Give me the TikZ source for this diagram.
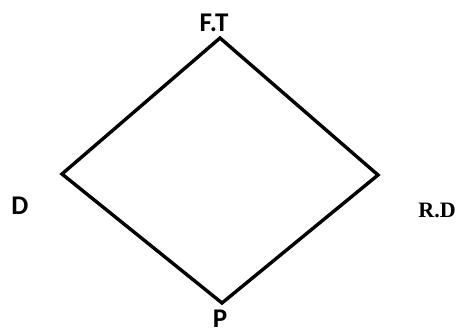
\documentclass[tikz,border=0pt]{standalone}
\usepackage{fontspec}
\setmainfont{Carlito}
\newfontfamily\serifbold{Liberation Serif}
\usepackage{tikz}
\tikzset{
  vlabel/.style={font=\fontsize{27}{27}\selectfont\bfseries,inner sep=0pt},
  edge/.style={line width=3.4pt,line join=miter}
}

\begin{document}
\begin{tikzpicture}[x=1pt,y=1pt]
\useasboundingbox (0,0) rectangle (460,335);
\coordinate (top) at (220,297);
\coordinate (left) at (62,161);
\coordinate (right) at (378,160);
\coordinate (bottom) at (222,32);
\draw[edge] (top) -- (right) -- (bottom) -- (left) -- cycle;
\node[vlabel] (ft) at (214,312) {F.T};
\node[vlabel] (d) at (20,129) {D};
\node[vlabel,font=\serifbold\fontsize{22}{22}\selectfont\bfseries] (rd) at (437,125) {R.D};
\node[vlabel] (p) at (220,16) {P};
\end{tikzpicture}
\end{document}
